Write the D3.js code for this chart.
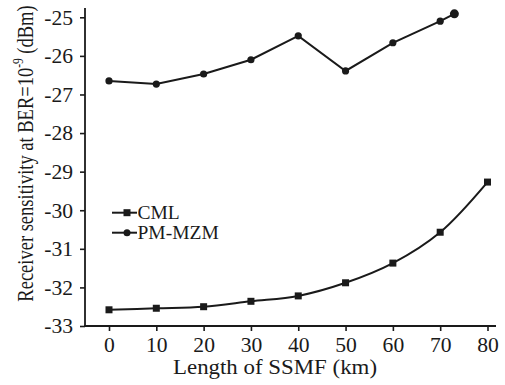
<!DOCTYPE html>
<html>
<head>
<meta charset="utf-8">
<script src="https://cdn.jsdelivr.net/npm/d3@7"></script>
<style>
  html, body { margin: 0; padding: 0; background: #fff; }
</style>
</head>
<body>
<svg id="chart" width="505" height="385"></svg>
<script>
// ---- data ----
const cmlLength = [0, 10, 20, 30, 40, 50, 60, 70, 80];
const cmlSens = [-32.58, -32.54, -32.50, -32.36, -32.22, -31.88, -31.37, -30.57, -29.27];
const pmLength = [0, 10, 20, 30, 40, 50, 60, 70, 73];
const pmSens = [-26.65, -26.73, -26.47, -26.10, -25.48, -26.39, -25.66, -25.10, -24.91];
const xTicks = [0, 10, 20, 30, 40, 50, 60, 70, 80];
const yTicks = [-25, -26, -27, -28, -29, -30, -31, -32, -33];
const seriesNames = ["CML", "PM-MZM"];

const FONT = '"Liberation Serif"';
const svg = d3.select("#chart");
const ink = "#1a1a1a";
const sx = 1.08; // horizontal stretch of the glyphs

const x = d3.scaleLinear().domain([0, 80]).range([109, 487.5]);
const y = d3.scaleLinear().domain([-33, -25]).range([326, 17.3]);

const axisX0 = 85, axisY0 = 326, axisTop = 8, axisRight = 496;

// axes
const gx = svg.append("g").attr("transform", `translate(0,${axisY0})`)
  .call(d3.axisBottom(x).tickValues(xTicks).tickSize(5).tickSizeOuter(0).tickFormat(d3.format("d")));
gx.attr("font-family", null);
gx.select(".domain").remove();
gx.selectAll(".tick line").attr("stroke", ink).attr("stroke-width", 1.6);
gx.selectAll(".tick text").style("font-family", FONT).attr("font-size", 20).attr("fill", ink)
  .attr("y", 0).attr("dy", 0).attr("transform", `translate(0,26) scale(${sx},1)`);

const gy = svg.append("g").attr("transform", `translate(${axisX0},0)`)
  .call(d3.axisLeft(y).tickValues(yTicks).tickSize(5).tickSizeOuter(0).tickFormat(d => d3.format("d")(d).replace("−", "-")));
gy.attr("font-family", null);
gy.select(".domain").remove();
gy.selectAll(".tick line").attr("stroke", ink).attr("stroke-width", 1.6);
gy.selectAll(".tick text").style("font-family", FONT).attr("font-size", 20).attr("fill", ink)
  .attr("x", 0).attr("dy", "0.34em").attr("transform", `translate(-12,0) scale(${sx},1)`);

svg.append("line").attr("x1", axisX0).attr("x2", axisX0).attr("y1", axisTop).attr("y2", axisY0 + 0.8)
  .attr("stroke", ink).attr("stroke-width", 1.8);
svg.append("line").attr("x1", axisX0 - 0.9).attr("x2", axisRight).attr("y1", axisY0).attr("y2", axisY0)
  .attr("stroke", ink).attr("stroke-width", 1.8);

// titles
svg.append("text").style("font-family", FONT).attr("fill", ink)
  .attr("x", 275).attr("y", 374).attr("text-anchor", "middle")
  .attr("font-size", 20).attr("textLength", 204).attr("lengthAdjust", "spacingAndGlyphs")
  .text("Length of SSMF (km)");

const yt = svg.append("text").style("font-family", FONT).attr("fill", ink)
  .attr("transform", "translate(33,153.5) rotate(-90) scale(1,1.22)")
  .attr("text-anchor", "middle").attr("font-size", 18.5);
yt.append("tspan").text("Receiver sensitivity at BER=10");
yt.append("tspan").attr("font-size", 11.5).attr("dy", -8).text("-9");
yt.append("tspan").attr("dy", 8).text(" (dBm)");

// series
const cmlData = cmlLength.map((d, i) => [d, cmlSens[i]]);
const pmData = pmLength.map((d, i) => [d, pmSens[i]]);

svg.append("path").datum(cmlData)
  .attr("d", d3.line().x(d => x(d[0])).y(d => y(d[1])).curve(d3.curveCatmullRom.alpha(0.5)))
  .attr("fill", "none").attr("stroke", ink).attr("stroke-width", 2);
svg.append("path").datum(pmData)
  .attr("d", d3.line().x(d => x(d[0])).y(d => y(d[1])).curve(d3.curveLinear))
  .attr("fill", "none").attr("stroke", ink).attr("stroke-width", 2);

svg.selectAll("rect.cml").data(cmlData).enter().append("rect").attr("class", "cml")
  .attr("x", d => x(d[0]) - 3.5).attr("y", d => y(d[1]) - 3.5)
  .attr("width", 7).attr("height", 7).attr("fill", ink);
svg.selectAll("circle.pm").data(pmData).enter().append("circle").attr("class", "pm")
  .attr("cx", d => x(d[0])).attr("cy", d => y(d[1]))
  .attr("r", (d, i) => i === pmData.length - 1 ? 4.5 : 3.6).attr("fill", ink);

// legend
const leg = svg.append("g");
seriesNames.forEach((name, i) => {
  const ly = 212.7 + i * 20;
  leg.append("line").attr("x1", 112).attr("x2", 137).attr("y1", ly).attr("y2", ly)
    .attr("stroke", ink).attr("stroke-width", 2);
  if (i === 0) {
    leg.append("rect").attr("x", 127 - 3.5).attr("y", ly - 3.5).attr("width", 7).attr("height", 7).attr("fill", ink);
  } else {
    leg.append("circle").attr("cx", 127).attr("cy", ly).attr("r", 3.5).attr("fill", ink);
  }
  leg.append("text").style("font-family", FONT).attr("fill", ink)
    .attr("x", 0).attr("y", 0).attr("dy", "0.34em").attr("font-size", 19.5)
    .attr("transform", `translate(137.5,${ly})`).text(name);
});
</script>
</body>
</html>
